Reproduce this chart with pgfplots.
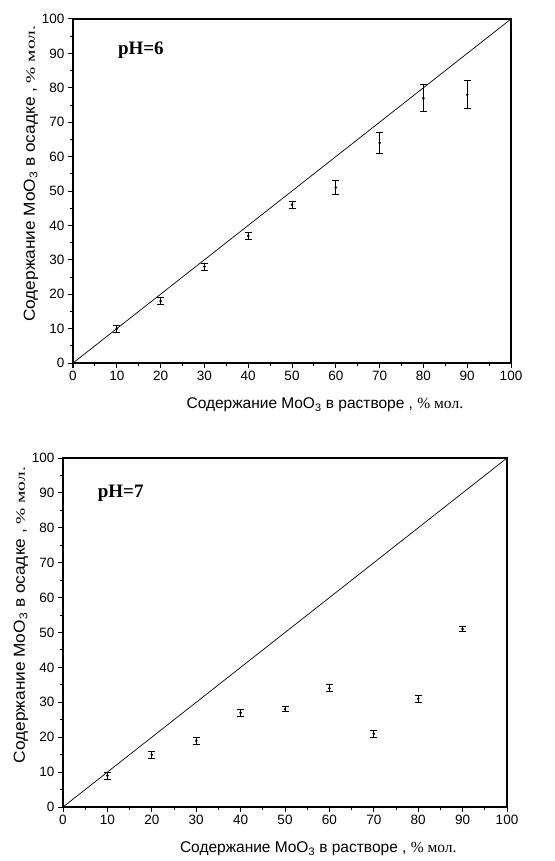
\documentclass[border=0pt]{standalone}
\usepackage{pgfplots}
\pgfplotsset{compat=1.18}
\usepackage{graphicx}
\usepackage{fontspec}
\setmainfont{Liberation Sans}
\newfontfamily\serif{Liberation Serif}

% measured composition: x = MoO3 in solution, y = MoO3 in precipitate, ey = error
\pgfplotstableread{
x  y   ey
10 10  1
20 18  1
30 28  1
40 37  1
50 46  1
60 51  2
70 64  3
}\phsix
\pgfplotstableread{
x  y   ey
80 77  4
}\phsixthick
\pgfplotstableread{
x  y   ey
90 78  4
}\phsixlast
\pgfplotstableread{
x  y   ey
10 9   1
20 15  1
30 19  1
40 27  1
50 28  0.7
60 34  1
70 21  1
80 31  1
90 51  0.6
}\phseven

\newcommand\xlab{Содержание MoO\textsubscript{3} в растворе , {\serif\% мол.}}
\newcommand\ylab{\scalebox{1.08}[1]{Содержание MoO\textsubscript{3} в осадке ,}
  {\serif\fontsize{13}{15}\selectfont\scalebox{1.5}[1]{\% мол.}}}

\pgfplotsset{
  compoax/.style={
    scale only axis,
    anchor=south west,
    xmin=0, xmax=100, ymin=0, ymax=100,
    xtick={0,10,...,100}, ytick={0,10,...,100},
    minor x tick num=1, minor y tick num=1,
    xtick pos=left, ytick pos=left,
    tick align=outside,
    major tick length=5pt, minor tick length=3pt,
    every tick/.style={black, line width=1pt},
    axis line style={line width=1.3pt},
    tick label style={font=\fontsize{13.5}{16}\selectfont},
    /pgf/number format/assume math mode=true,
    xlabel style={font=\fontsize{15.5}{18}\selectfont, at={(ticklabel cs:0.575)}, yshift=-10pt},
    ylabel style={font=\fontsize{16}{18}\selectfont, at={(ticklabel cs:0.55)}, yshift=-3pt},
    clip=false,
  },
  errpts/.style={
    only marks, black, mark=*, mark size=1.1pt,
    error bars/y dir=both, error bars/y explicit,
    error bars/error bar style={line width=0.9pt},
    error bars/error mark options={rotate=90, mark size=3.5pt, line width=0.9pt},
  },
}

\begin{document}
\begin{tikzpicture}[x=1pt, y=1pt]
\useasboundingbox (0,0) rectangle (554,-861);

% pH = 6
\begin{axis}[compoax,
  at={(73pt,-363pt)}, width=438pt, height=344pt,
  xlabel={\xlab}, ylabel={\ylab},
]
\addplot[black, line width=0.7pt] coordinates {(0,0) (100,100)};
\addplot[errpts] table[x=x, y=y, y error=ey] {\phsix};
\addplot[errpts, error bars/error bar style={line width=1.6pt}] table[x=x, y=y, y error=ey] {\phsixthick};
\addplot[errpts, error bars/error bar style={line width=0.7pt}] table[x=x, y=y, y error=ey] {\phsixlast};
\node[font=\serif\bfseries\fontsize{19}{22}\selectfont] at (axis cs:15.5,91) {pH=6};
\end{axis}

% pH = 7
\begin{axis}[compoax,
  at={(63pt,-807pt)}, width=444pt, height=349pt,
  xlabel={\xlab}, ylabel={\ylab},
]
\addplot[black, line width=0.7pt] coordinates {(0,0) (100,100)};
\addplot[errpts] table[x=x, y=y, y error=ey] {\phseven};
\node[font=\serif\bfseries\fontsize{19}{22}\selectfont] at (axis cs:13,90) {pH=7};
\end{axis}
\end{tikzpicture}
\end{document}
